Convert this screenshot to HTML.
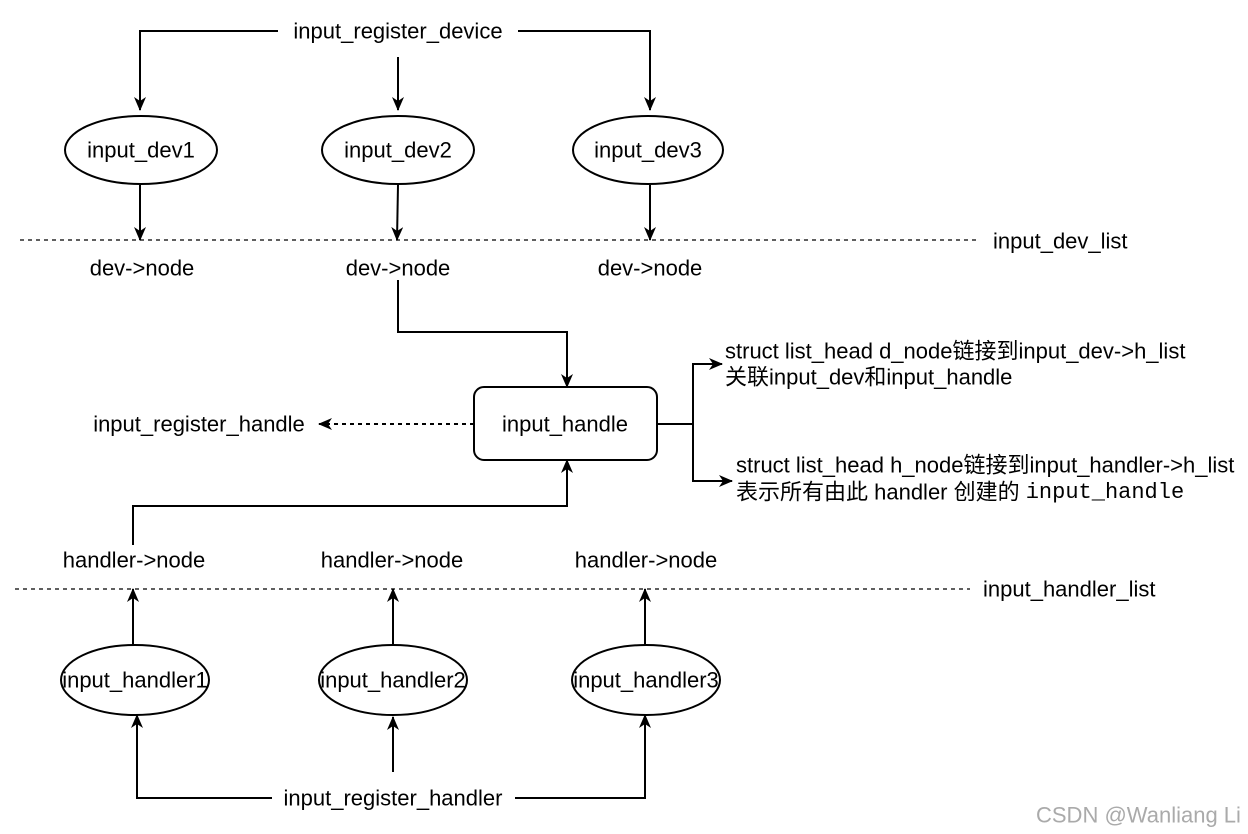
<!DOCTYPE html>
<html><head><meta charset="utf-8"><style>
html,body{margin:0;padding:0;background:#fff;}
svg{display:block;}
text{font-family:"Liberation Sans","Noto Sans CJK SC",sans-serif;font-size:22px;fill:#000;}
</style></head><body>
<svg width="1248" height="834" viewBox="0 0 1248 834" xmlns="http://www.w3.org/2000/svg">
<defs>
<marker id="a" markerWidth="14" markerHeight="12" refX="13" refY="6" orient="auto" markerUnits="userSpaceOnUse">
<path d="M0,0 L14,6 L0,12 L4,6 Z" fill="#000"/></marker>
</defs>
<g stroke="#000" stroke-width="2" fill="none">
<polyline points="278,31 140,31 140,110" marker-end="url(#a)"/>
<polyline points="518,31 650,31 650,110" marker-end="url(#a)"/>
<line x1="398" y1="57" x2="398" y2="110" marker-end="url(#a)"/>
<ellipse cx="141" cy="150" rx="76" ry="34"/>
<ellipse cx="398" cy="150" rx="76" ry="34"/>
<ellipse cx="648" cy="150" rx="75" ry="34"/>
<line x1="140" y1="185" x2="140" y2="240" marker-end="url(#a)"/>
<line x1="398" y1="185" x2="397" y2="240" marker-end="url(#a)"/>
<line x1="650" y1="185" x2="650" y2="240" marker-end="url(#a)"/>
<line x1="20" y1="240" x2="980" y2="240" stroke-width="1.3" stroke-dasharray="4,4"/>
<polyline points="398,280 398,332 567,332 567,387" marker-end="url(#a)"/>
<rect x="474" y="387" width="183" height="73" rx="10"/>
<line x1="474" y1="424" x2="319" y2="424" stroke-dasharray="4,4" marker-end="url(#a)"/>
<line x1="657" y1="424" x2="693" y2="424"/>
<polyline points="693,424 693,364 722,364" marker-end="url(#a)"/>
<polyline points="693,424 693,481 732,481" marker-end="url(#a)"/>
<polyline points="133,545 133,506 567,506 567,460" marker-end="url(#a)"/>
<line x1="15" y1="589" x2="970" y2="589" stroke-width="1.3" stroke-dasharray="4,4"/>
<line x1="133" y1="645" x2="133" y2="589" marker-end="url(#a)"/>
<line x1="393" y1="645" x2="393" y2="589" marker-end="url(#a)"/>
<line x1="645" y1="645" x2="645" y2="589" marker-end="url(#a)"/>
<ellipse cx="135" cy="680" rx="74" ry="35"/>
<ellipse cx="393" cy="680" rx="74" ry="35"/>
<ellipse cx="646" cy="680" rx="74" ry="35"/>
<polyline points="272,798 137,798 137,715" marker-end="url(#a)"/>
<polyline points="515,798 645,798 645,715" marker-end="url(#a)"/>
<line x1="393" y1="772" x2="393" y2="717" marker-end="url(#a)"/>
</g>
<g text-anchor="middle" dominant-baseline="central">
<text x="398" y="31">input_register_device</text>
<text x="141" y="150">input_dev1</text>
<text x="398" y="150">input_dev2</text>
<text x="648" y="150">input_dev3</text>
<text x="142" y="268">dev-&gt;node</text>
<text x="398" y="268">dev-&gt;node</text>
<text x="650" y="268">dev-&gt;node</text>
<text x="565" y="424">input_handle</text>
<text x="199" y="424">input_register_handle</text>
<text x="134" y="560">handler-&gt;node</text>
<text x="392" y="560">handler-&gt;node</text>
<text x="646" y="560">handler-&gt;node</text>
<text x="135" y="680">input_handler1</text>
<text x="393" y="680">input_handler2</text>
<text x="646" y="680">input_handler3</text>
<text x="393" y="798">input_register_handler</text>
</g>
<g dominant-baseline="central">
<text x="993" y="241">input_dev_list</text>
<text x="983" y="589">input_handler_list</text>
<text x="725" y="351">struct list_head d_node链接到input_dev-&gt;h_list</text>
<text x="725" y="377">关联input_dev和input_handle</text>
<text x="736" y="465">struct list_head h_node链接到input_handler-&gt;h_list</text>
<text x="736" y="492">表示所有由此 handler 创建的 <tspan font-family="Liberation Mono, monospace">input_handle</tspan></text>
<text x="1036" y="815" style="fill:#aaa;font-size:22px">CSDN @Wanliang Li</text>
</g>
</svg>
</body></html>
